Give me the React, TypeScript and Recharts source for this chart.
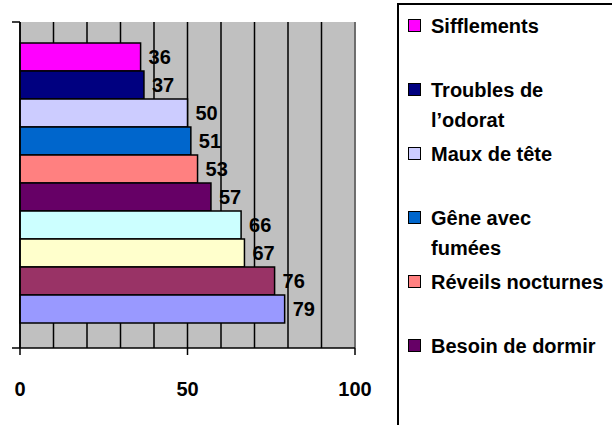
import React from 'react';
import { BarChart, Bar, XAxis, YAxis, CartesianGrid, LabelList, ReferenceLine } from 'recharts';

const categories = ['Symptômes'];
const seriesNames = [
  'Sifflements',
  'Troubles de l’odorat',
  'Maux de tête',
  'Gêne avec fumées',
  'Réveils nocturnes',
  'Besoin de dormir',
  'Série 7',
  'Série 8',
  'Série 9',
  'Série 10',
];
const seriesValues = [36, 37, 50, 51, 53, 57, 66, 67, 76, 79];
const seriesColors = [
  '#FF00FF',
  '#000080',
  '#CCCCFF',
  '#0066CC',
  '#FF8080',
  '#660066',
  '#CCFFFF',
  '#FFFFCC',
  '#993366',
  '#9999FF',
];
const xTicks = [0, 50, 100];
const gridTicks = [0, 10, 20, 30, 40, 50, 60, 70, 80, 90, 100];
// the legend box only has room for the first entries
const legendShown = 6;

const data = categories.map((c) => {
  const row: Record<string, string | number> = { name: c };
  seriesValues.forEach((v, i) => {
    row[`s${i}`] = v;
  });
  return row;
});

const FONT = '"Liberation Sans", Arial, sans-serif';

// tick marks at the top and bottom edge of the category band
const EdgeTicks = (props: any) => {
  const { x, y, payload } = props;
  const half = payload && payload.offset ? payload.offset : 163;
  return (
    <g>
      <line x1={x} x2={x + 8} y1={y - half} y2={y - half} stroke="#000" strokeWidth={1.5} />
      <line x1={x} x2={x + 8} y1={y + half} y2={y + half} stroke="#000" strokeWidth={1.5} />
    </g>
  );
};

// grid every 10, but tick mark + label only on 0 / 50 / 100
const ValueTick = (props: any) => {
  const { x, y, payload } = props;
  if (!xTicks.includes(payload.value)) return <g />;
  return (
    <g>
      <line x1={x} x2={x} y1={y} y2={y + 7} stroke="#000" strokeWidth={1.5} />
      <text
        x={x}
        y={y + 34}
        dy="0.71em"
        textAnchor="middle"
        fill="#000"
        fontSize={20}
        fontWeight="bold"
        fontFamily={FONT}
      >
        {payload.value}
      </text>
    </g>
  );
};

const LegendBox = () => (
  <div
    style={{
      position: 'absolute',
      left: 397,
      top: 3,
      width: 260,
      height: 460,
      borderLeft: '2px solid #000',
      borderTop: '2px solid #000',
      boxSizing: 'border-box',
      paddingTop: 6,
    }}
  >
    {seriesNames.slice(0, legendShown).map((n, i) => (
      <div key={n} style={{ height: 64, display: 'flex', alignItems: 'flex-start' }}>
        <div
          style={{
            width: 13,
            height: 13,
            marginLeft: 9,
            marginTop: 8,
            background: seriesColors[i],
            border: '1.5px solid #000',
            boxSizing: 'border-box',
            flexShrink: 0,
          }}
        />
        <div
          style={{
            marginLeft: 10,
            maxWidth: 174,
            fontSize: 20,
            lineHeight: '30px',
            fontWeight: 'bold',
            color: '#000',
          }}
        >
          {n}
        </div>
      </div>
    ))}
  </div>
);

export default function App() {
  return (
    <div
      style={{
        position: 'absolute',
        left: 0,
        top: 0,
        width: 612,
        height: 425,
        overflow: 'hidden',
        background: '#fff',
        fontFamily: FONT,
      }}
    >
      <BarChart
        width={400}
        height={425}
        data={data}
        layout="vertical"
        margin={{ top: 22, right: 45, bottom: 17, left: 12 }}
        barCategoryGap={21}
        barGap={0}
      >
        <CartesianGrid
          horizontal={false}
          vertical
          fill="#C0C0C0"
          fillOpacity={1}
          stroke="#000"
          strokeWidth={1.5}
        />
        <XAxis
          xAxisId="top"
          orientation="top"
          type="number"
          domain={[0, 100]}
          tick={false}
          tickLine={false}
          axisLine={{ stroke: '#999999', strokeWidth: 1.5 }}
          height={0}
        />
        <XAxis
          type="number"
          domain={[0, 100]}
          ticks={gridTicks}
          interval={0}
          tickSize={0}
          tickMargin={0}
          height={60}
          axisLine={{ stroke: '#000', strokeWidth: 1.5 }}
          tickLine={false}
          tick={<ValueTick />}
        />
        <YAxis
          type="category"
          dataKey="name"
          width={8}
          tickSize={8}
          tickMargin={0}
          tickLine={false}
          axisLine={{ stroke: '#000', strokeWidth: 1.5 }}
          tick={<EdgeTicks />}
        />
        <ReferenceLine x={100} stroke="#808080" strokeWidth={1.5} />
        {seriesNames.map((n, i) => (
          <Bar
            key={n}
            dataKey={`s${i}`}
            name={n}
            fill={seriesColors[i]}
            stroke="#000"
            strokeWidth={1.5}
            isAnimationActive={false}
          >
            <LabelList
              dataKey={`s${i}`}
              position="right"
              offset={8}
              fill="#000"
              fontSize={20}
              fontWeight="bold"
              fontFamily={FONT}
            />
          </Bar>
        ))}
      </BarChart>
      <LegendBox />
    </div>
  );
}
